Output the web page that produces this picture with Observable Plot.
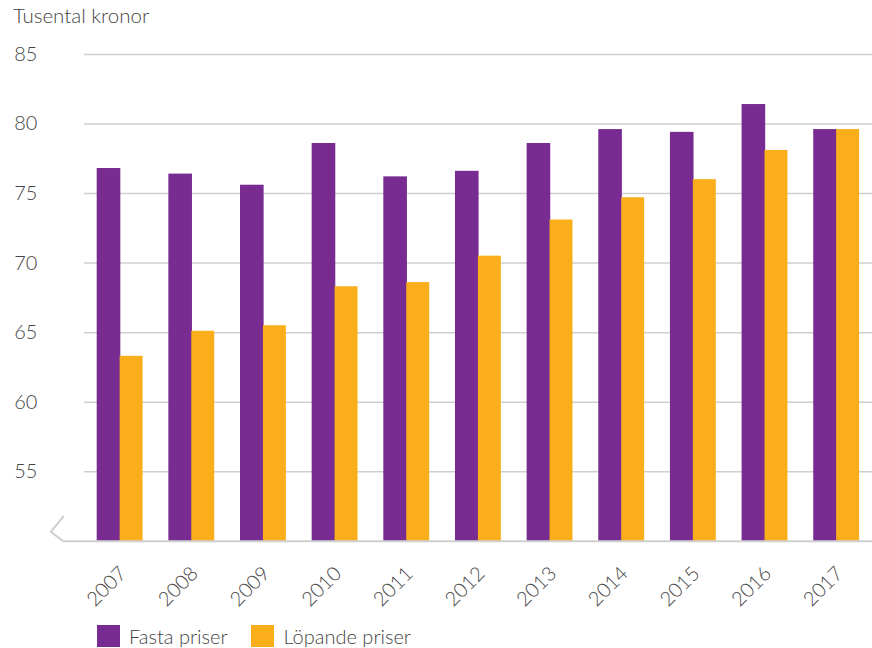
<!DOCTYPE html>
<html>
<head>
<meta charset="utf-8">
<script src="https://cdn.jsdelivr.net/npm/d3@7"></script>
<script src="https://cdn.jsdelivr.net/npm/@observablehq/plot@0.6"></script>
<style>
  html, body { margin: 0; padding: 0; background: #fff; }
  body { width: 872px; height: 648px; overflow: hidden; font-family: Lato, "Open Sans", sans-serif; font-weight: 300; color: #444; }
  #title { height: 36px; font-size: 20.5px; line-height: 20px; padding-left: 13px; padding-top: 5px; box-sizing: border-box; }
  #chart svg { display: block; }
  #legend { display: flex; align-items: center; height: 26px; padding-top: 4px; box-sizing: border-box; padding-left: 97px; font-size: 20px; }
  .sw { width: 23px; height: 22px; display: inline-block; }
  .item { display: flex; align-items: center; }
  .lab { margin-left: 9px; }
</style>
</head>
<body>
<div id="title">Tusental kronor</div>
<div id="chart"></div>
<div id="legend"></div>
<script>
const years = ["2007","2008","2009","2010","2011","2012","2013","2014","2015","2016","2017"];
const fasta = [76.8, 76.4, 75.6, 78.6, 76.2, 76.6, 78.6, 79.6, 79.4, 81.4, 79.6];
const lopande = [63.3, 65.1, 65.5, 68.3, 68.6, 70.5, 73.1, 74.7, 76.0, 78.1, 79.6];
const seriesNames = ["Fasta priser", "Löpande priser"];
const seriesColors = ["#782b90", "#f9ae1a"];
const yTicks = [55, 60, 65, 70, 75, 80, 85];

const fastaData = years.map((y, i) => ({year: y, series: seriesNames[0], value: fasta[i]}));
const lopandeData = years.map((y, i) => ({year: y, series: seriesNames[1], value: lopande[i]}));

const plot = Plot.plot({
  width: 874,
  height: 586,
  marginLeft: 84,
  marginRight: 0,
  marginTop: 18,
  marginBottom: 80,
  style: {fontFamily: "Lato, 'Open Sans', sans-serif", fontWeight: 300, color: "#444", background: "#fff", overflow: "visible"},
  x: {domain: years, paddingInner: 0.36, paddingOuter: 0.18, round: false, label: null},
  y: {domain: [50, 85], label: null},
  color: {domain: seriesNames, range: seriesColors},
  marks: [
    Plot.gridY(yTicks, {stroke: "#cfcfcf", strokeOpacity: 1, strokeWidth: 1.5}),
    Plot.barY(fastaData, {x: "year", y1: 50, y2: "value", fill: "series", insetRight: 22.3}),
    Plot.barY(lopandeData, {x: "year", y1: 50, y2: "value", fill: "series", insetLeft: 22.98}),
    Plot.ruleY([50], {stroke: "#cfcfcf", strokeWidth: 2, insetLeft: -21}),
    Plot.axisY(yTicks, {tickSize: 0, tickPadding: 47, fontSize: 20, fill: "#444", label: null}),
    Plot.axisX({tickSize: 0, tickPadding: 29, dx: 3, tickRotate: -45, fontSize: 20, fill: "#444", label: null})
  ]
});
document.getElementById("chart").appendChild(plot);

// axis break symbol at the left end of the baseline
(function axisBreak() {
  const ys = plot.scale("y");
  const y0 = ys.apply(50);
  d3.select(plot).append("path")
    .attr("d", `M${84 - 20},${y0 - 25} L${84 - 33},${y0 - 9} L${84 - 21},${y0}`)
    .attr("fill", "none").attr("stroke", "#cfcfcf").attr("stroke-width", 2);
})();

const legend = document.getElementById("legend");
seriesNames.forEach((s, i) => {
  const it = document.createElement("div");
  it.className = "item";
  it.style.marginRight = i === 0 ? "24px" : "0";
  it.innerHTML = `<span class="sw" style="background:${seriesColors[i]}"></span><span class="lab">${s}</span>`;
  legend.appendChild(it);
});
</script>
</body>
</html>
